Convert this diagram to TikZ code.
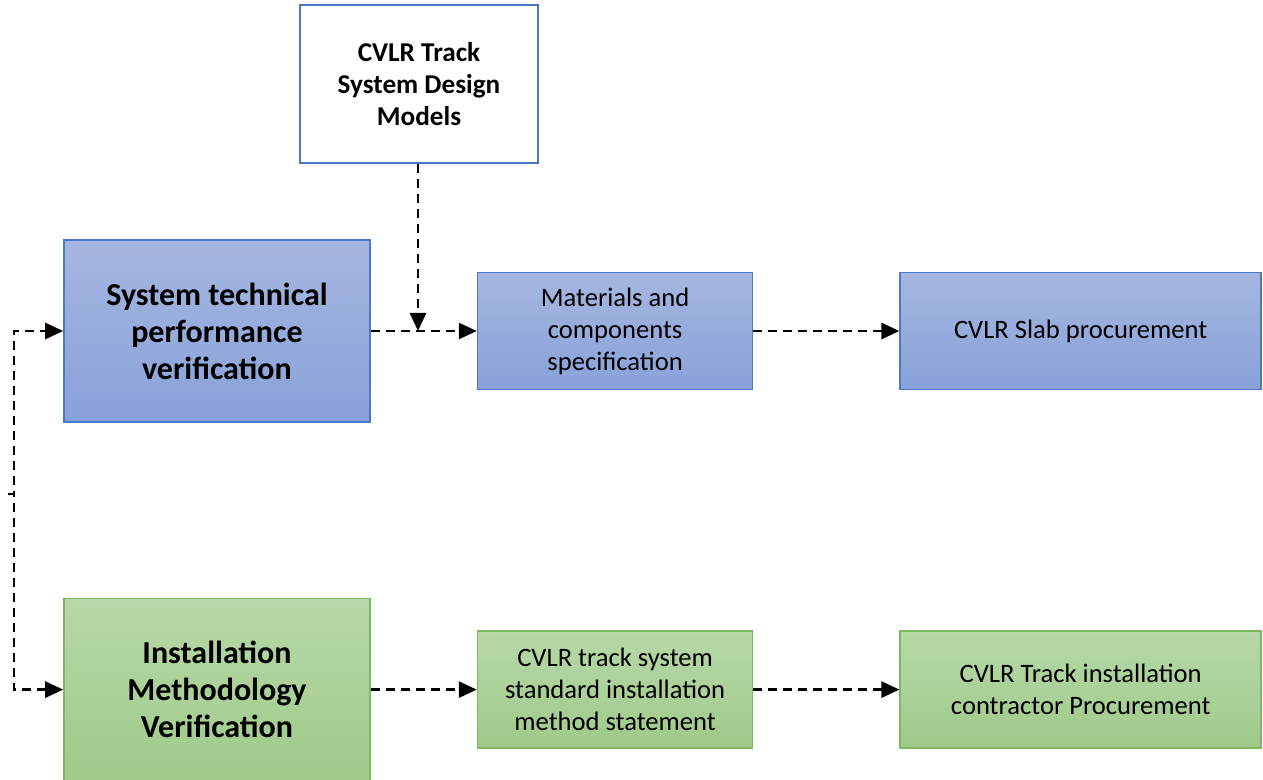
\documentclass[tikz,border=0pt]{standalone}
\usepackage{fontspec}
\setmainfont{Carlito}
\usetikzlibrary{positioning,arrows.meta}
\definecolor{bluetop}{HTML}{A6B6E0}
\definecolor{bluebot}{HTML}{88A2D9}
\definecolor{blueline}{HTML}{4A78C8}
\definecolor{greentop}{HTML}{B7D8A8}
\definecolor{greenbot}{HTML}{9FCA8A}
\definecolor{greenline}{HTML}{7DB85C}
\tikzset{
  bluebox/.style={draw=blueline,line width=0.8pt,top color=bluetop,bottom color=bluebot,align=center,inner sep=2pt},
  greenbox/.style={draw=greenline,line width=0.8pt,top color=greentop,bottom color=greenbot,align=center,inner sep=2pt},
  bigbox/.style={minimum width=153pt,minimum height=91pt,font=\fontsize{16}{18.5}\selectfont\bfseries},
  smallbox/.style={minimum width=137.5pt,minimum height=58.5pt,font=\fontsize{13.3}{16}\selectfont},
  widebox/.style={minimum width=180.5pt,minimum height=58.5pt,font=\fontsize{13.3}{16}\selectfont},
}

\begin{document}
\begin{tikzpicture}[x=0.5pt,y=-0.5pt,
   flow/.style={line width=1.4pt,dash pattern=on 4.5pt off 3pt,-{Triangle[length=9pt,width=8pt]}}]
  \useasboundingbox (0,0) rectangle (1263,780);
  % top row
  \node[bluebox,bigbox] (stp) at (217,331) {System technical\\performance\\verification};
  \node[bluebox,smallbox,right=53pt of stp] (mcs) {Materials and\\components\\specification};
  \node[bluebox,widebox,right=73pt of mcs] (slab) {CVLR Slab procurement};
  % bottom row
  \node[greenbox,bigbox,below=87.5pt of stp] (imv) {Installation\\Methodology\\Verification};
  \node[greenbox,smallbox,right=53pt of imv] (ism) {CVLR track system\\standard installation\\method statement};
  \node[greenbox,widebox,right=73pt of ism] (tcp) {CVLR Track installation\\contractor Procurement};
  % design models
  \node[draw=blueline,line width=1pt,fill=white,align=center,minimum width=119pt,minimum height=79pt,
        font=\fontsize{13.6}{16}\selectfont\bfseries] (cdm) at (419,84) {CVLR Track\\System Design\\Models};
  \coordinate (src) at (8,494);
  \draw[flow] (stp) -- (mcs);
  \draw[flow] (mcs) -- (slab);
  \draw[flow] (imv) -- (ism);
  \draw[flow] (ism) -- (tcp);
  \draw[flow] (cdm.south -| 418,0) -- (418,331);
  \draw[flow] (src) -- ++(3pt,0) |- (stp.west);
  \draw[flow] (src) -- ++(3pt,0) |- (imv.west);
\end{tikzpicture}
\end{document}
